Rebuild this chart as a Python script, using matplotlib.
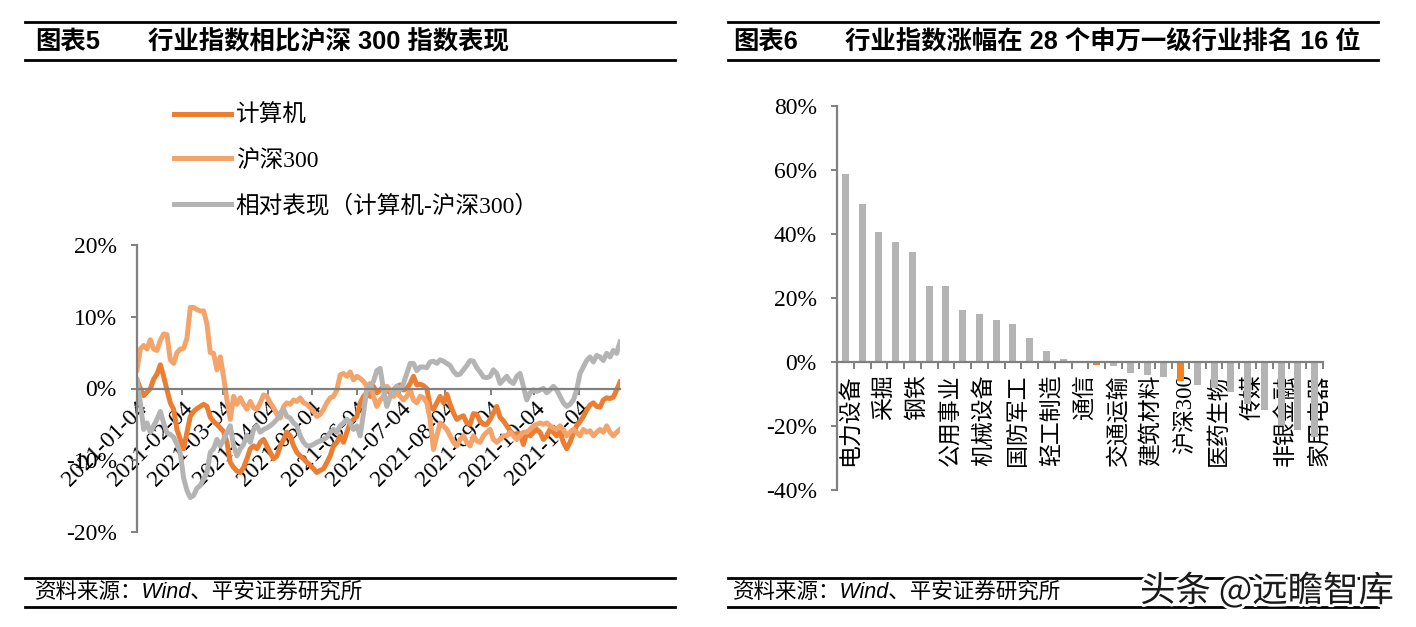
import matplotlib
matplotlib.use('Agg')
import matplotlib.pyplot as plt
import matplotlib.patheffects as pe
from matplotlib.lines import Line2D
from matplotlib.ticker import FuncFormatter
import matplotlib.transforms as mtransforms
import numpy as np
import pandas as pd

plt.rcParams['font.family'] = ['Liberation Serif', 'Noto Sans CJK SC']
plt.rcParams['axes.unicode_minus'] = False

# ---- 图表5: cumulative change in %, 2021-01-04 .. 2021-12-02
start_date = '2021-01-04'
end_date = '2021-12-02'

computer = [
    1.2, 0.0, -1.0, -0.5, 0.0, 1.3, 2.0, 3.3, 1.7, -0.2, -2.0, -2.9, -5.7, -7.1, -8.4, -6.1, -3.9,
    -3.2, -2.8, -2.5, -2.2, -2.5, -4.0, -4.6, -5.0, -5.5, -6.0, -7.5, -10.3, -11.0, -11.5, -11.7, -11.0, -9.8,
    -8.4, -8.0, -8.4, -7.5, -7.1, -8.0, -8.9, -9.8, -9.4, -8.0, -7.1, -6.1, -6.6, -8.0, -8.9, -9.4, -9.8, -10.3,
    -10.7, -11.2, -11.7, -11.4, -11.2, -10.3, -9.4, -8.0, -7.5, -6.6, -7.5, -6.1, -4.8, -4.3, -3.9, -2.0, -1.1, -0.6,
    -1.1, 0.3, -0.6, -0.2, 0.3, -0.2, -0.6, -0.2, 0.3, 0.5, -0.2, 0.0, 0.7, 1.7, 0.5, 0.6, 0.4, 0.0,
    -2.5, -2.9, -2.0, -1.1, -2.0, -0.8, -2.2, -3.4, -4.3, -4.0, -3.8, -4.8, -5.0, -3.5, -3.6, -4.6, -5.0, -5.0,
    -4.3, -3.4, -2.5, -4.0, -4.5, -5.2, -5.9, -6.4, -6.3, -6.3, -7.8, -6.1, -6.6, -6.1, -5.7, -6.1, -7.1, -6.6,
    -5.7, -6.1, -6.6, -6.1, -7.5, -8.4, -7.5, -6.2, -5.2, -4.6, -3.9, -3.0, -2.3, -2.0, -2.5, -2.6, -1.6, -1.3,
    -1.4, -1.2, -0.2, 0.9,
]
hs300 = [
    2.6, 5.5, 6.0, 5.5, 6.8, 5.5, 5.3, 6.7, 7.6, 7.5, 4.0, 3.5, 5.0, 5.5, 5.6, 7.0, 11.3,
    11.3, 11.0, 10.8, 10.8, 9.0, 5.0, 4.9, 2.6, 4.4, 1.6, -1.6, -4.3, -1.1, -2.2, -1.3, -2.2, -2.9,
    -1.8, -2.7, -2.9, -2.0, -0.9, -1.1, -2.0, -2.7, -3.6, -4.1, -2.5, -2.0, -2.2, -1.6, -1.8, -1.3, -2.0, -2.2,
    -2.7, -3.2, -3.9, -3.6, -2.9, -2.0, -1.3, -1.1, -0.2, 1.9, 2.1, 1.7, 2.3, 1.2, 1.7, 1.4, 1.0, 0.3,
    0.7, -1.1, -2.5, -1.6, -1.1, 0.3, -0.2, -1.1, -0.6, -1.1, -1.6, -1.1, -0.2, -1.6, -2.0, -1.1, -1.3, -2.0,
    -4.3, -8.5, -6.6, -4.8, -5.2, -5.7, -6.6, -7.5, -8.0, -7.1, -6.6, -7.5, -8.0, -6.6, -7.3, -7.5, -6.6, -6.1,
    -5.7, -7.1, -7.5, -7.1, -6.6, -6.6, -6.1, -6.6, -7.1, -6.6, -6.1, -6.1, -5.7, -5.2, -5.0, -4.8, -5.0, -4.8,
    -5.2, -5.5, -5.7, -5.2, -5.7, -6.6, -6.1, -5.7, -6.1, -6.6, -5.7, -6.1, -5.9, -6.6, -6.1, -5.7, -6.1, -5.2,
    -6.1, -6.6, -6.1, -5.7,
]
relative = [
    1.2, -2.0, -5.7, -4.8, -6.1, -5.2, -4.3, -3.2, -4.8, -6.2, -6.4, -6.8, -7.8, -9.0, -12.5, -14.2, -15.2,
    -14.9, -13.9, -13.5, -12.6, -11.7, -8.9, -8.4, -7.1, -8.0, -7.1, -6.1, -5.2, -8.0, -9.4, -8.4, -7.8, -6.5,
    -7.5, -5.7, -5.2, -6.1, -5.7, -5.5, -5.2, -4.8, -4.3, -3.4, -2.9, -3.9, -4.1, -4.8, -5.2, -6.6, -7.5, -8.0,
    -8.0, -7.8, -7.5, -7.3, -7.1, -6.8, -6.1, -5.7, -6.1, -5.2, -4.8, -4.3, -4.8, -5.7, -5.2, -6.6, -3.4, 0.0,
    0.3, 1.0, 2.5, 2.8, -0.2, -2.5, -1.1, -0.2, 0.3, -0.2, 0.7, 2.1, 3.5, 3.5, 2.5, 3.0, 3.0, 2.9,
    3.7, 3.8, 3.5, 4.0, 3.8, 3.5, 3.2, 2.4, 1.9, 2.0, 2.6, 3.2, 3.9, 3.8, 2.9, 2.3, 1.6, 1.5,
    1.7, 2.6, 2.1, 0.7, 1.2, 1.7, 1.0, 0.7, 1.7, 2.1, 0.3, -1.6, -0.6, -0.2, -0.4, -0.2, 0.0, -0.6,
    -0.2, 0.3, -0.2, -1.1, -2.0, -2.5, -2.2, -1.6, -0.2, 2.1, 3.0, 3.9, 4.4, 3.7, 4.6, 4.4, 3.9, 4.9,
    4.4, 5.3, 4.9, 6.5,
]
series_labels = ['计算机', '沪深300', '相对表现（计算机-沪深300）']
month_ticks = ['2021-01-04', '2021-02-04', '2021-03-04', '2021-04-04', '2021-05-04', '2021-06-04',
               '2021-07-04', '2021-08-04', '2021-09-04', '2021-10-04', '2021-11-04']

# ---- 图表6: 2021 gain of SW level-1 industries, %
industries = ['电力设备', '有色金属', '采掘', '化工', '钢铁', '汽车', '公用事业', '建筑装饰', '机械设备',
              '电子', '国防军工', '综合', '轻工制造', '纺织服装', '通信', '计算机', '交通运输', '银行',
              '建筑材料', '农林牧渔', '沪深300', '食品饮料', '医药生物', '商业贸易', '传媒', '房地产',
              '非银金融', '休闲服务', '家用电器']
gains = [58.6, 49.3, 40.6, 37.5, 34.3, 23.8, 23.8, 16.2, 14.9, 13.1, 11.8, 7.4, 3.5, 1.0, 0.2, -0.8,
         -1.4, -3.4, -4.0, -4.7, -5.8, -7.1, -8.1, -9.4, -13.0, -14.9, -19.8, -21.1, -23.4]
highlight = ['计算机', '沪深300']

W, H = 1416, 627
fig = plt.figure(figsize=(W / 100, H / 100), dpi=100)
fig.patch.set_facecolor('white')

AXIS_GREY = '#808080'
pct = FuncFormatter(lambda v, _: f'{v:.0f}%')
title_font = ['Liberation Sans', 'Noto Sans CJK SC']


def hline(x0, x1, y, lw=2.0):
    fig.add_artist(Line2D([x0 / W, x1 / W], [1 - y / H, 1 - y / H], color='black', lw=lw))


# frame lines, titles and sources
for x0, x1 in [(25, 675), (728, 1378)]:
    hline(x0, x1, 22)
    hline(x0, x1, 60)
    hline(x0, x1, 578)
    hline(x0, x1, 607)

fig.text(35 / W, 1 - 42 / H, '图表5', fontsize=18.3, weight='bold', family=title_font, va='center')
fig.text(148 / W, 1 - 42 / H, '行业指数相比沪深 300 指数表现', fontsize=18.3, weight='bold',
         family=title_font, va='center')
fig.text(733 / W, 1 - 42 / H, '图表6', fontsize=18.3, weight='bold', family=title_font, va='center')
fig.text(845 / W, 1 - 42 / H, '行业指数涨幅在 28 个申万一级行业排名 16 位', fontsize=18.3, weight='bold',
         family=title_font, va='center')
for x in (35, 733):
    fig.text(x / W, 1 - 592 / H, '资料来源：Wind、平安证券研究所', fontsize=15.5, style='italic',
             family=title_font, va='center')
fig.text(1140 / W, 1 - 591 / H, '头条 @远瞻智库', fontsize=25.5, color='#1a1a1a',
         family=['Noto Sans CJK SC', 'DejaVu Sans'], va='center',
         path_effects=[pe.withStroke(linewidth=4, foreground='white')])

# ---- left chart
ax1 = fig.add_axes([137 / W, 1 - 532 / H, (620 - 137) / W, (532 - 245) / H])
dates = pd.date_range(start_date, end_date, periods=len(computer))
colors = ['#ED7D31', '#F4A46A', '#B4B4B4']
handles = []
for vals, c, lab in zip([computer, hs300, relative], colors, series_labels):
    ln, = ax1.plot(dates, vals, color=c, lw=3.6, solid_joinstyle='round', label=lab)
    handles.append(ln)

ax1.spines['bottom'].set_position(('data', 0))
for s in ('top', 'right'):
    ax1.spines[s].set_visible(False)
for s in ('bottom', 'left'):
    ax1.spines[s].set_color(AXIS_GREY)
    ax1.spines[s].set_linewidth(1.6)
ax1.tick_params(axis='y', colors=AXIS_GREY, labelcolor='black', labelsize=17, length=4.5,
                width=1.4, direction='out', pad=10)
ax1.tick_params(axis='x', colors=AXIS_GREY, labelcolor='black', labelsize=17, length=4.5,
                width=1.4, direction='out', pad=2)
ax1.set_xlim(dates[0], dates[-1])
ax1.set_ylim(-20, 20)
ax1.set_yticks([-20, -10, 0, 10, 20])
ax1.yaxis.set_major_formatter(pct)
ax1.set_xticks(pd.to_datetime(month_ticks))
ax1.set_xticklabels(month_ticks)
for lab in ax1.get_xticklabels():
    lab.set(rotation=45, ha='right', va='top', rotation_mode='anchor')
ax1.patch.set_alpha(0)

fig.legend(handles, series_labels, loc='upper left', bbox_to_anchor=(153 / W, 1 - 84 / H),
           frameon=False, fontsize=17, handlelength=2.4, handletextpad=0.2, labelspacing=0.95)

# ---- right chart
ax2 = fig.add_axes([837 / W, 1 - 490 / H, 486 / W, (490 - 106) / H])
x = np.arange(len(industries))
bar_colors = ['#F7821B' if name in highlight else '#B4B4B4' for name in industries]
ax2.bar(x, gains, width=0.42, color=bar_colors, zorder=2)
ax2.spines['bottom'].set_position(('data', 0))
for s in ('top', 'right'):
    ax2.spines[s].set_visible(False)
for s in ('bottom', 'left'):
    ax2.spines[s].set_color(AXIS_GREY)
    ax2.spines[s].set_linewidth(1.6)
ax2.spines['bottom'].set_zorder(3)
ax2.tick_params(axis='y', colors=AXIS_GREY, labelcolor='black', labelsize=17, length=4.5,
                width=1.4, pad=10)
ax2.tick_params(axis='x', which='major', length=0, pad=9, labelsize=16.5)
ax2.tick_params(axis='x', which='minor', colors=AXIS_GREY, length=5, width=1.4)
ax2.set_xlim(-0.5, len(industries) - 0.5)
ax2.set_ylim(-40, 80)
ax2.set_yticks(range(-40, 81, 20))
ax2.yaxis.set_major_formatter(pct)
ax2.set_xticks(x[::2])
ax2.set_xticklabels(industries[::2])
ax2.set_xticks(np.arange(-0.5, len(industries), 1), minor=True)
offset = mtransforms.ScaledTranslation(5 / 100, 0, fig.dpi_scale_trans)
for lab in ax2.get_xticklabels():
    lab.set(rotation=90, ha='center', va='top')
    lab.set_transform(lab.get_transform() + offset)
ax2.patch.set_alpha(0)

fig.savefig('out.png', dpi=100, facecolor='white')
